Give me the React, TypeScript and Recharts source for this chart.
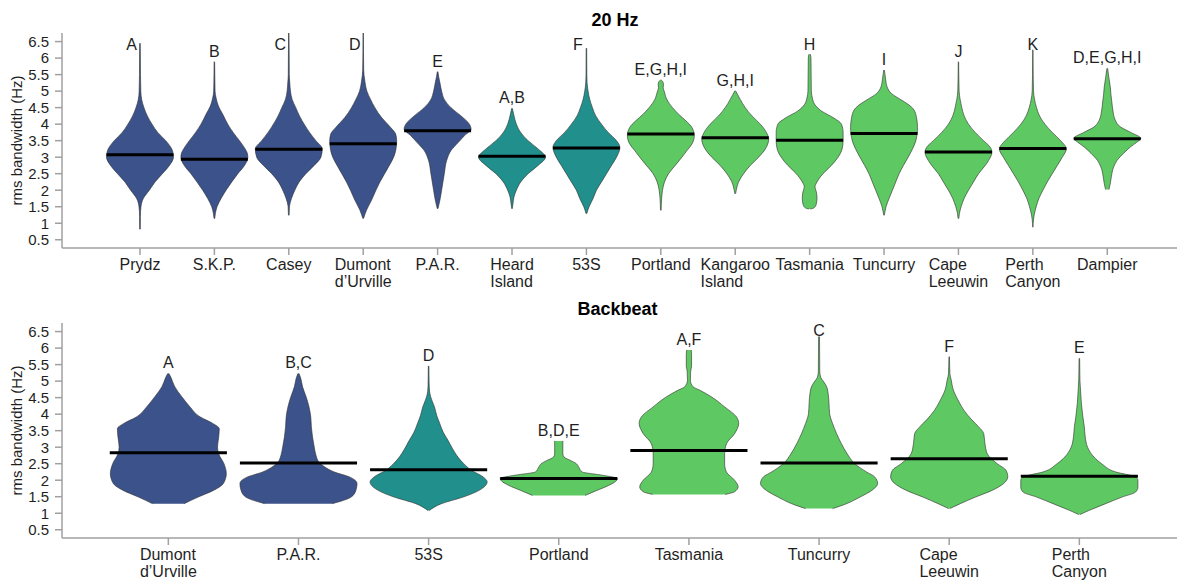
import React from "react";
import { ComposedChart, Area, XAxis, YAxis, ReferenceLine, ReferenceDot } from "recharts";

type Profile = [number, number][];

// ---- 20 Hz call ----
const hzSites = [
  "Prydz", "S.K.P.", "Casey", "Dumont\nd’Urville", "P.A.R.", "Heard\nIsland", "53S",
  "Portland", "Kangaroo\nIsland", "Tasmania", "Tuncurry", "Cape\nLeeuwin", "Perth\nCanyon", "Dampier",
];
const hzRegions = [
  "antarctic", "antarctic", "antarctic", "antarctic", "antarctic", "subantarctic", "subantarctic",
  "australian", "australian", "australian", "australian", "australian", "australian", "australian",
];
const hzLetters = ["A", "B", "C", "D", "E", "A,B", "F", "E,G,H,I", "G,H,I", "H", "I", "J", "K", "D,E,G,H,I"];
const hzMedians = [3.07, 2.94, 3.24, 3.41, 3.8, 3.03, 3.28, 3.7, 3.59, 3.51, 3.72, 3.16, 3.26, 3.56];
// outline of each violin: [rms bandwidth (Hz), relative density]
const hzDensity: Profile[] = [
  [[0.82, 0.01], [1.2, 0.012], [1.5, 0.03], [1.75, 0.1], [2.0, 0.28], [2.25, 0.45], [2.5, 0.67], [2.75, 0.88], [3.0, 1.0], [3.2, 0.97], [3.5, 0.77], [3.75, 0.53], [4.0, 0.36], [4.25, 0.22], [4.5, 0.12], [4.75, 0.05], [5.0, 0.025], [5.5, 0.015], [6.0, 0.012], [6.45, 0.008]],
  [[1.14, 0.01], [1.3, 0.03], [1.5, 0.08], [1.75, 0.2], [2.0, 0.35], [2.25, 0.52], [2.5, 0.7], [2.75, 0.9], [3.0, 1.0], [3.1, 0.99], [3.25, 0.92], [3.5, 0.75], [3.75, 0.56], [4.0, 0.4], [4.3, 0.25], [4.55, 0.12], [4.8, 0.05], [5.0, 0.02], [5.5, 0.012], [5.89, 0.008]],
  [[1.24, 0.01], [1.5, 0.02], [1.75, 0.08], [2.0, 0.18], [2.25, 0.31], [2.5, 0.51], [2.75, 0.76], [3.0, 0.96], [3.25, 1.0], [3.5, 0.81], [3.75, 0.62], [4.0, 0.46], [4.25, 0.32], [4.5, 0.21], [4.75, 0.1], [5.0, 0.05], [5.25, 0.03], [5.5, 0.015], [6.3, 0.01], [6.76, 0.005]],
  [[1.14, 0.01], [1.4, 0.1], [1.7, 0.25], [2.0, 0.38], [2.25, 0.5], [2.5, 0.64], [2.75, 0.78], [3.0, 0.91], [3.25, 0.98], [3.5, 1.0], [3.7, 0.97], [3.9, 0.82], [4.2, 0.55], [4.5, 0.35], [4.75, 0.22], [5.0, 0.11], [5.3, 0.05], [5.64, 0.015], [6.2, 0.008], [6.76, 0.005]],
  [[1.44, 0.01], [1.7, 0.07], [2.0, 0.12], [2.5, 0.2], [2.9, 0.27], [3.2, 0.4], [3.45, 0.62], [3.65, 0.8], [3.85, 1.0], [4.0, 0.95], [4.25, 0.7], [4.5, 0.4], [4.75, 0.2], [5.0, 0.12], [5.25, 0.07], [5.45, 0.03], [5.59, 0.01]],
  [[1.44, 0.01], [1.6, 0.03], [1.8, 0.06], [2.0, 0.13], [2.25, 0.26], [2.5, 0.48], [2.75, 0.78], [3.0, 1.0], [3.25, 0.78], [3.5, 0.48], [3.75, 0.26], [4.0, 0.13], [4.25, 0.06], [4.48, 0.01]],
  [[1.29, 0.01], [1.5, 0.08], [1.75, 0.2], [2.0, 0.3], [2.25, 0.45], [2.5, 0.6], [2.75, 0.75], [3.0, 0.9], [3.3, 1.0], [3.5, 0.9], [3.75, 0.65], [4.0, 0.45], [4.25, 0.28], [4.5, 0.18], [4.75, 0.1], [5.0, 0.05], [5.25, 0.02], [5.5, 0.012], [6.3, 0.008]],
  [[1.39, 0.01], [1.75, 0.025], [2.0, 0.05], [2.25, 0.11], [2.5, 0.23], [2.75, 0.43], [3.0, 0.63], [3.2, 0.78], [3.4, 0.93], [3.65, 1.0], [3.9, 0.93], [4.1, 0.75], [4.3, 0.53], [4.5, 0.35], [4.75, 0.18], [5.0, 0.1], [5.1, 0.07], [5.2, 0.08], [5.3, 0.05], [5.34, 0.01]],
  [[1.89, 0.01], [2.0, 0.03], [2.25, 0.1], [2.5, 0.25], [2.75, 0.45], [3.0, 0.7], [3.25, 0.9], [3.55, 1.0], [3.75, 0.93], [4.0, 0.75], [4.25, 0.5], [4.5, 0.3], [4.75, 0.15], [4.9, 0.07], [5.01, 0.01]],
  [[1.43, 0.02], [1.46, 0.12], [1.55, 0.19], [1.75, 0.22], [1.95, 0.2], [2.1, 0.16], [2.25, 0.22], [2.5, 0.4], [2.75, 0.65], [3.0, 0.85], [3.25, 0.97], [3.5, 1.0], [3.75, 1.0], [4.0, 0.95], [4.2, 0.7], [4.4, 0.35], [4.6, 0.15], [4.8, 0.08], [5.0, 0.05], [5.5, 0.045], [6.0, 0.04], [6.12, 0.02]],
  [[1.24, 0.01], [1.5, 0.06], [1.75, 0.15], [2.0, 0.25], [2.25, 0.35], [2.5, 0.45], [2.75, 0.58], [3.0, 0.72], [3.25, 0.85], [3.5, 0.95], [3.9, 1.0], [4.2, 0.97], [4.45, 0.88], [4.6, 0.72], [4.73, 0.52], [4.93, 0.22], [5.13, 0.09], [5.34, 0.05], [5.64, 0.01]],
  [[1.14, 0.01], [1.3, 0.03], [1.5, 0.08], [1.75, 0.17], [2.0, 0.3], [2.25, 0.45], [2.5, 0.6], [2.75, 0.8], [2.9, 0.9], [3.15, 1.0], [3.3, 0.95], [3.5, 0.75], [3.75, 0.5], [4.0, 0.3], [4.25, 0.17], [4.5, 0.1], [4.75, 0.05], [5.0, 0.02], [5.5, 0.01], [5.89, 0.006]],
  [[0.88, 0.005], [1.0, 0.01], [1.25, 0.04], [1.5, 0.1], [1.75, 0.18], [2.0, 0.3], [2.25, 0.43], [2.5, 0.58], [2.75, 0.73], [3.0, 0.88], [3.25, 1.0], [3.5, 0.83], [3.75, 0.58], [4.0, 0.36], [4.25, 0.2], [4.5, 0.11], [4.75, 0.05], [5.0, 0.02], [5.5, 0.01], [6.25, 0.005]],
  [[2.02, 0.05], [2.2, 0.09], [2.4, 0.12], [2.7, 0.19], [2.9, 0.29], [3.12, 0.49], [3.31, 0.69], [3.45, 0.88], [3.57, 1.0], [3.75, 0.7], [3.92, 0.39], [4.12, 0.24], [4.4, 0.17], [4.64, 0.14], [4.9, 0.11], [5.13, 0.09], [5.4, 0.05], [5.69, 0.01]],
];

// ---- Backbeat call ----
const bbSites = ["Dumont\nd’Urville", "P.A.R.", "53S", "Portland", "Tasmania", "Tuncurry", "Cape\nLeeuwin", "Perth\nCanyon"];
const bbRegions = ["antarctic", "antarctic", "subantarctic", "australian", "australian", "australian", "australian", "australian"];
const bbLetters = ["A", "B,C", "D", "B,D,E", "A,F", "C", "F", "E"];
const bbMedians = [2.83, 2.52, 2.32, 2.05, 2.9, 2.52, 2.65, 2.12];
const bbDensity: Profile[] = [
  [[1.29, 0.27], [1.49, 0.51], [1.69, 0.77], [1.9, 0.94], [2.2, 0.99], [2.5, 0.95], [2.8, 0.86], [3.0, 0.84], [3.31, 0.86], [3.56, 0.87], [3.72, 0.76], [3.92, 0.54], [4.22, 0.37], [4.53, 0.23], [4.83, 0.11], [5.13, 0.04], [5.23, 0.01]],
  [[1.29, 0.58], [1.49, 0.9], [1.69, 0.98], [1.9, 1.0], [2.1, 0.87], [2.25, 0.61], [2.4, 0.45], [2.55, 0.35], [2.75, 0.3], [3.0, 0.27], [3.31, 0.24], [3.62, 0.22], [3.92, 0.21], [4.22, 0.18], [4.53, 0.13], [4.83, 0.07], [5.08, 0.04], [5.23, 0.01]],
  [[1.08, 0.01], [1.29, 0.22], [1.49, 0.59], [1.7, 0.87], [1.95, 1.0], [2.1, 0.93], [2.3, 0.73], [2.5, 0.6], [2.7, 0.5], [2.95, 0.41], [3.21, 0.33], [3.45, 0.25], [3.72, 0.19], [3.95, 0.14], [4.22, 0.1], [4.4, 0.06], [4.53, 0.035], [4.7, 0.015], [5.0, 0.008], [5.46, 0.005]],
  [[1.54, 0.45], [1.69, 0.65], [1.84, 0.85], [2.0, 0.99], [2.05, 1.0], [2.15, 0.75], [2.25, 0.4], [2.4, 0.34], [2.5, 0.3], [2.6, 0.2], [2.7, 0.09], [2.8, 0.07], [3.0, 0.07], [3.19, 0.07]],
  [[1.57, 0.62], [1.65, 0.78], [1.8, 0.84], [2.0, 0.78], [2.25, 0.64], [2.5, 0.61], [2.8, 0.61], [3.1, 0.64], [3.41, 0.78], [3.72, 0.85], [3.92, 0.81], [4.22, 0.61], [4.53, 0.38], [4.73, 0.18], [4.83, 0.07], [5.03, 0.025], [5.3, 0.03], [5.45, 0.045], [5.8, 0.045], [5.94, 0.04]],
  [[1.14, 0.23], [1.29, 0.47], [1.49, 0.7], [1.69, 0.9], [1.9, 1.0], [2.1, 0.95], [2.25, 0.81], [2.5, 0.61], [2.8, 0.48], [3.11, 0.38], [3.41, 0.3], [3.72, 0.23], [4.02, 0.18], [4.32, 0.17], [4.63, 0.155], [4.83, 0.13], [4.98, 0.08], [5.11, 0.03], [5.3, 0.012], [6.35, 0.008]],
  [[1.14, 0.01], [1.29, 0.19], [1.49, 0.45], [1.69, 0.73], [1.9, 0.93], [2.1, 1.0], [2.3, 0.97], [2.5, 0.82], [2.8, 0.65], [3.11, 0.61], [3.41, 0.59], [3.62, 0.5], [3.82, 0.39], [4.12, 0.25], [4.43, 0.15], [4.73, 0.07], [5.03, 0.035], [5.23, 0.012], [5.74, 0.005]],
  [[0.96, 0.01], [1.08, 0.16], [1.29, 0.45], [1.49, 0.73], [1.64, 0.96], [1.79, 1.0], [2.0, 1.0], [2.1, 0.96], [2.25, 0.62], [2.5, 0.38], [2.7, 0.25], [3.0, 0.14], [3.31, 0.1], [3.62, 0.085], [3.92, 0.06], [4.32, 0.035], [4.73, 0.02], [5.03, 0.01], [5.69, 0.005]],
];

const yTicks = [0.5, 1, 1.5, 2, 2.5, 3, 3.5, 4, 4.5, 5, 5.5, 6, 6.5];

const REGION_FILL: Record<string, string> = {
  antarctic: "#3b528b",
  subantarctic: "#21908d",
  australian: "#5ec962",
};
const FONT = "'Liberation Sans', Arial, sans-serif";
const INK = "#1f1f1f";
const FRAME = "#a0a0a0";
const CHART_W = 1197;
const HALF = 0.45; // half of the widest violin, in category units
const Y_DOMAIN: [number, number] = [0.25, 6.76];
const LABEL_GAP = 0.33;
const TICK_FONT_SIZE = 16;

let measureCtx: CanvasRenderingContext2D | null = null;
function textWidth(s: string, font: string) {
  if (!measureCtx) measureCtx = document.createElement("canvas").getContext("2d");
  if (!measureCtx) return s.length * 8;
  measureCtx.font = font;
  return measureCtx.measureText(s).width;
}

// one row per bandwidth value; each violin is a [left, right] range on the category axis
function buildRows(density: Profile[]) {
  const byY = new Map<number, Record<string, any>>();
  density.forEach((prof, i) => {
    prof.forEach(([y, w]) => {
      if (!byY.has(y)) byY.set(y, { y });
      byY.get(y)![`v${i}`] = [i - w * HALF, i + w * HALF];
    });
  });
  const rows = Array.from(byY.values()).sort((a, b) => a.y - b.y);
  rows.forEach((r) => {
    density.forEach((_, i) => {
      if (!(`v${i}` in r)) r[`v${i}`] = [null, null];
    });
  });
  return rows;
}

// site names: block centred on the tick, lines left-aligned
function SiteTick(props: any) {
  const { x, y, payload, sites } = props;
  const lines: string[] = sites[Math.round(payload.value)].split("\n");
  const w = Math.max(...lines.map((l) => textWidth(l, `${TICK_FONT_SIZE}px ${FONT}`)));
  const left = x - w / 2;
  return (
    <text x={left} y={y} fill={INK} fontSize={TICK_FONT_SIZE} fontFamily={FONT} textAnchor="start">
      {lines.map((l, k) => (
        <tspan key={k} x={left} dy={k === 0 ? 12.5 : 17.5}>
          {l}
        </tspan>
      ))}
    </text>
  );
}

interface PanelProps {
  sites: string[];
  regions: string[];
  letters: string[];
  medians: number[];
  density: Profile[];
  xDomain: [number, number];
  labelCap: number;
  top: number;
  height: number;
  axisHeight: number;
}

function ViolinPanel({ sites, regions, letters, medians, density, xDomain, labelCap, top, height, axisHeight }: PanelProps) {
  const rows = buildRows(density);
  return (
    <div style={{ position: "absolute", left: 0, top }}>
      <ComposedChart
        layout="vertical"
        width={CHART_W}
        height={height}
        data={rows}
        margin={{ top: 33, right: 0, bottom: 0, left: 0 }}
      >
        <XAxis
          type="number"
          domain={xDomain}
          allowDataOverflow
          ticks={sites.map((_, i) => i)}
          interval={0}
          height={axisHeight}
          tickSize={7}
          tickMargin={2}
          axisLine={{ stroke: FRAME, strokeWidth: 1.5 }}
          tickLine={{ stroke: FRAME, strokeWidth: 1.5 }}
          tick={(p: any) => <SiteTick {...p} sites={sites} />}
        />
        <XAxis
          xAxisId="frame"
          orientation="top"
          type="number"
          domain={xDomain}
          allowDataOverflow
          height={0}
          tick={false}
          tickLine={false}
          axisLine={{ stroke: FRAME, strokeWidth: 1.5 }}
        />
        <YAxis
          type="number"
          dataKey="y"
          domain={Y_DOMAIN}
          allowDataOverflow
          reversed
          ticks={yTicks}
          interval={0}
          width={62}
          tickSize={7}
          tickMargin={6}
          axisLine={{ stroke: FRAME, strokeWidth: 1.5 }}
          tickLine={{ stroke: FRAME, strokeWidth: 1.5 }}
          tick={{ fill: INK, fontSize: 15, fontFamily: FONT }}
        />
        {density.map((_, i) => (
          <Area
            key={`v${i}`}
            dataKey={`v${i}`}
            type="monotone"
            connectNulls
            fill={REGION_FILL[regions[i]]}
            fillOpacity={1}
            stroke="#2b2b2b"
            strokeWidth={0.6}
            dot={false}
            activeDot={false}
            isAnimationActive={false}
          />
        ))}
        {medians.map((m, i) => (
          <ReferenceLine
            key={`m${i}`}
            segment={[
              { x: i - HALF, y: m },
              { x: i + HALF, y: m },
            ]}
            stroke="#000"
            strokeWidth={3}
          />
        ))}
        {letters.map((txt, i) => {
          const maxY = density[i][density[i].length - 1][0];
          const labelY = Math.min(maxY + LABEL_GAP, labelCap);
          // nudge the letters aside where a long tail runs through them
          const dx = maxY >= labelY - 0.15 ? -8.5 : 0;
          return (
            <ReferenceDot
              key={`l${i}`}
              x={i}
              y={labelY}
              r={0}
              ifOverflow="visible"
              shape={(p: any) => (
                <text
                  x={p.cx + dx}
                  y={p.cy}
                  dy="0.36em"
                  textAnchor="middle"
                  fill={INK}
                  fontSize={16}
                  fontFamily={FONT}
                >
                  {txt}
                </text>
              )}
            />
          );
        })}
      </ComposedChart>
    </div>
  );
}

export default function App() {
  return (
    <div
      style={{
        position: "absolute",
        left: 0,
        top: 0,
        width: 1177,
        height: 585,
        overflow: "hidden",
        background: "#fff",
        fontFamily: FONT,
      }}
    >
      <ViolinPanel
        sites={hzSites}
        regions={hzRegions}
        letters={hzLetters}
        medians={hzMedians}
        density={hzDensity}
        xDomain={[-1.048, 14.206]}
        labelCap={6.42}
        top={0}
        height={293}
        axisHeight={45}
      />
      <ViolinPanel
        sites={bbSites}
        regions={bbRegions}
        letters={bbLetters}
        medians={bbMedians}
        density={bbDensity}
        xDomain={[-0.817, 7.904]}
        labelCap={6.54}
        top={290}
        height={295}
        axisHeight={47}
      />
      <svg width={1177} height={585} style={{ position: "absolute", left: 0, top: 0, pointerEvents: "none" }}>
        <text x={615} y={25.5} textAnchor="middle" fontWeight="bold" fontSize={18} fontFamily={FONT} fill="#000">
          20 Hz
        </text>
        <text x={617.5} y={314.5} textAnchor="middle" fontWeight="bold" fontSize={18} fontFamily={FONT} fill="#000">
          Backbeat
        </text>
        <text
          transform="translate(22,140.5) rotate(-90)"
          textAnchor="middle"
          fontSize={15}
          fontFamily={FONT}
          fill={INK}
        >
          rms bandwidth (Hz)
        </text>
        <text
          transform="translate(22,430.5) rotate(-90)"
          textAnchor="middle"
          fontSize={15}
          fontFamily={FONT}
          fill={INK}
        >
          rms bandwidth (Hz)
        </text>
      </svg>
    </div>
  );
}
